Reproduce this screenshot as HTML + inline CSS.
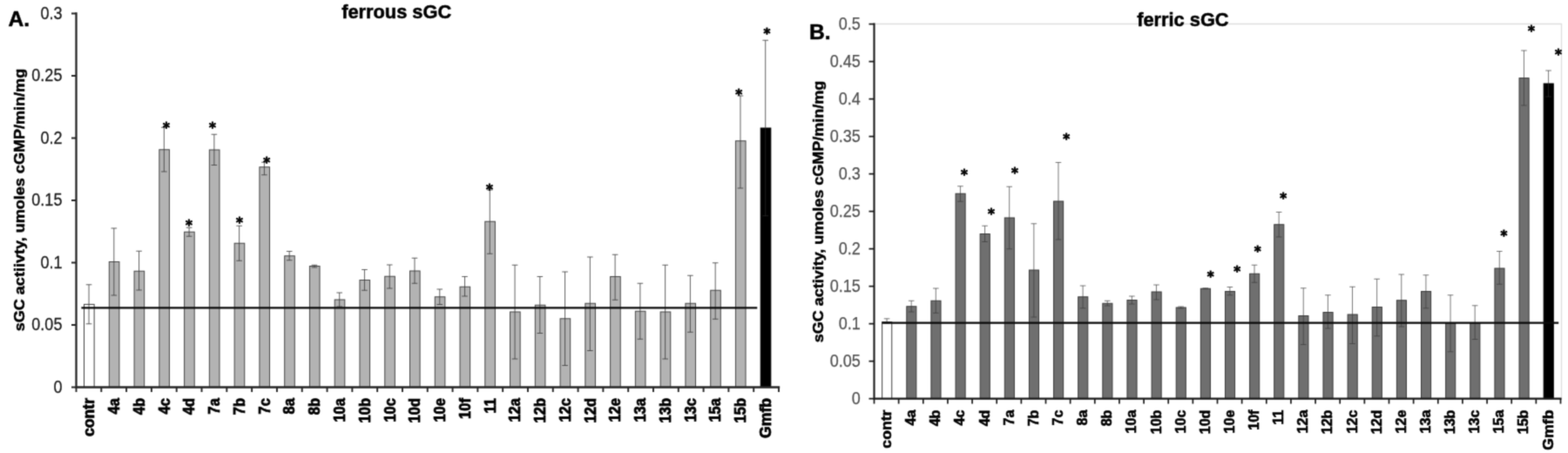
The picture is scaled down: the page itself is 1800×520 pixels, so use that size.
<!DOCTYPE html>
<html lang="en"><head><meta charset="utf-8"><title>sGC activity</title>
<style>
html,body{margin:0;padding:0;background:#fff;}
body{width:1800px;height:520px;overflow:hidden;}
svg{display:block;font-family:"Liberation Sans",sans-serif;}
.tl{font-size:19.5px;fill:#1c1c1c;stroke:#1c1c1c;stroke-width:0.3px;text-anchor:end;}
.tr{font-size:19.3px;fill:#525252;stroke:#525252;stroke-width:0.25px;text-anchor:end;}
.cl{font-size:17.6px;font-weight:bold;fill:#000;stroke:#000;stroke-width:0.75px;text-anchor:end;}
.cr{font-size:17px;font-weight:bold;fill:#000;stroke:#000;stroke-width:0.6px;text-anchor:end;}
.yl{font-size:17.3px;font-weight:bold;fill:#000;stroke:#000;stroke-width:0.5px;}
.ti{font-size:21.2px;font-weight:bold;fill:#000;stroke:#000;stroke-width:0.5px;}
.pl{font-size:24.6px;font-weight:bold;fill:#000;stroke:#000;stroke-width:0.5px;}
.as{font-family:"DejaVu Sans","Liberation Sans",sans-serif;font-size:15px;font-weight:bold;fill:#000;stroke:#000;stroke-width:0.8px;text-anchor:middle;}
</style></head><body>
<svg width="1800" height="520" viewBox="0 0 1800 520">
<defs><filter id="soft" x="0" y="0" width="1800" height="520" filterUnits="userSpaceOnUse" color-interpolation-filters="sRGB"><feConvolveMatrix order="3" kernelMatrix="0.0622 0.2494 0.0622 0.2494 1.0000 0.2494 0.0622 0.2494 0.0622" edgeMode="duplicate" preserveAlpha="true"/></filter></defs>
<g filter="url(#soft)">
<rect x="0" y="0" width="1800" height="520" fill="#fff"/>
<g>
<rect x="96.55" y="349.40" width="11.60" height="95.10" fill="#ffffff" stroke="#3c3c3c" stroke-width="1"/>
<rect x="125.32" y="300.50" width="11.60" height="144.00" fill="#b3b3b3" stroke="#464646" stroke-width="1"/>
<rect x="154.08" y="311.25" width="11.60" height="133.25" fill="#b3b3b3" stroke="#464646" stroke-width="1"/>
<rect x="182.84" y="171.75" width="11.60" height="272.75" fill="#b3b3b3" stroke="#464646" stroke-width="1"/>
<rect x="211.61" y="266.25" width="11.60" height="178.25" fill="#b3b3b3" stroke="#464646" stroke-width="1"/>
<rect x="240.37" y="172.00" width="11.60" height="272.50" fill="#b3b3b3" stroke="#464646" stroke-width="1"/>
<rect x="269.14" y="279.25" width="11.60" height="165.25" fill="#b3b3b3" stroke="#464646" stroke-width="1"/>
<rect x="297.91" y="191.75" width="11.60" height="252.75" fill="#b3b3b3" stroke="#464646" stroke-width="1"/>
<rect x="326.67" y="293.75" width="11.60" height="150.75" fill="#b3b3b3" stroke="#464646" stroke-width="1"/>
<rect x="355.44" y="305.50" width="11.60" height="139.00" fill="#b3b3b3" stroke="#464646" stroke-width="1"/>
<rect x="384.20" y="344.00" width="11.60" height="100.50" fill="#b3b3b3" stroke="#464646" stroke-width="1"/>
<rect x="412.96" y="321.50" width="11.60" height="123.00" fill="#b3b3b3" stroke="#464646" stroke-width="1"/>
<rect x="441.73" y="317.25" width="11.60" height="127.25" fill="#b3b3b3" stroke="#464646" stroke-width="1"/>
<rect x="470.49" y="311.00" width="11.60" height="133.50" fill="#b3b3b3" stroke="#464646" stroke-width="1"/>
<rect x="499.26" y="340.75" width="11.60" height="103.75" fill="#b3b3b3" stroke="#464646" stroke-width="1"/>
<rect x="528.03" y="329.25" width="11.60" height="115.25" fill="#b3b3b3" stroke="#464646" stroke-width="1"/>
<rect x="556.79" y="254.25" width="11.60" height="190.25" fill="#b3b3b3" stroke="#464646" stroke-width="1"/>
<rect x="585.56" y="358.00" width="11.60" height="86.50" fill="#b3b3b3" stroke="#464646" stroke-width="1"/>
<rect x="614.32" y="350.25" width="11.60" height="94.25" fill="#b3b3b3" stroke="#464646" stroke-width="1"/>
<rect x="643.09" y="365.75" width="11.60" height="78.75" fill="#b3b3b3" stroke="#464646" stroke-width="1"/>
<rect x="671.85" y="348.25" width="11.60" height="96.25" fill="#b3b3b3" stroke="#464646" stroke-width="1"/>
<rect x="700.62" y="317.50" width="11.60" height="127.00" fill="#b3b3b3" stroke="#464646" stroke-width="1"/>
<rect x="729.38" y="357.25" width="11.60" height="87.25" fill="#b3b3b3" stroke="#464646" stroke-width="1"/>
<rect x="758.15" y="358.00" width="11.60" height="86.50" fill="#b3b3b3" stroke="#464646" stroke-width="1"/>
<rect x="786.91" y="348.25" width="11.60" height="96.25" fill="#b3b3b3" stroke="#464646" stroke-width="1"/>
<rect x="815.68" y="333.25" width="11.60" height="111.25" fill="#b3b3b3" stroke="#464646" stroke-width="1"/>
<rect x="844.44" y="161.75" width="11.60" height="282.75" fill="#b3b3b3" stroke="#464646" stroke-width="1"/>
<rect x="873.21" y="147.00" width="11.60" height="297.50" fill="#000000" stroke="#000" stroke-width="1"/>
<path d="M102.05 326.75V371.75M98.75 326.75h6.6M98.75 371.75h6.6M130.81 262.00V339.00M127.52 262.00h6.6M127.52 339.00h6.6M159.58 288.25V333.00M156.28 288.25h6.6M156.28 333.00h6.6M188.34 146.25V197.00M185.04 146.25h6.6M185.04 197.00h6.6M217.11 261.25V271.25M213.81 261.25h6.6M213.81 271.25h6.6M245.87 154.25V189.50M242.57 154.25h6.6M242.57 189.50h6.6M274.64 259.25V299.25M271.34 259.25h6.6M271.34 299.25h6.6M303.41 186.25V200.75M300.11 186.25h6.6M300.11 200.75h6.6M332.17 288.50V298.75M328.87 288.50h6.6M328.87 298.75h6.6M360.94 304.25V307.00M357.63 304.25h6.6M357.63 307.00h6.6M389.70 336.00V352.00M386.40 336.00h6.6M386.40 352.00h6.6M418.46 309.50V333.25M415.16 309.50h6.6M415.16 333.25h6.6M447.23 304.00V331.00M443.93 304.00h6.6M443.93 331.00h6.6M475.99 296.25V325.25M472.69 296.25h6.6M472.69 325.25h6.6M504.76 332.00V349.50M501.46 332.00h6.6M501.46 349.50h6.6M533.53 317.50V340.00M530.23 317.50h6.6M530.23 340.00h6.6M562.29 218.00V291.25M558.99 218.00h6.6M558.99 291.25h6.6M591.06 304.25V412.00M587.76 304.25h6.6M587.76 412.00h6.6M619.82 317.50V382.50M616.52 317.50h6.6M616.52 382.50h6.6M648.59 312.00V419.50M645.29 312.00h6.6M645.29 419.50h6.6M677.35 295.00V402.50M674.05 295.00h6.6M674.05 402.50h6.6M706.12 292.25V344.25M702.82 292.25h6.6M702.82 344.25h6.6M734.88 325.25V389.25M731.58 325.25h6.6M731.58 389.25h6.6M763.65 304.25V412.00M760.35 304.25h6.6M760.35 412.00h6.6M792.41 316.25V381.25M789.11 316.25h6.6M789.11 381.25h6.6M821.18 301.75V366.25M817.88 301.75h6.6M817.88 366.25h6.6M849.94 110.00V216.00M846.64 110.00h6.6M846.64 216.00h6.6M878.71 46.25V147.00M875.41 46.25h6.6" fill="none" stroke="#3a3a3a" stroke-width="1" stroke-opacity="0.8"/>
<path d="M878.71 147.00V247.75M875.41 247.75h6.6" fill="none" stroke="#555" stroke-width="1" stroke-opacity="0.35"/>
<line x1="93.40" y1="353.45" x2="869.25" y2="353.45" stroke="#0a0a0a" stroke-width="2.3"/>
<path d="M87.50 14.35V444.50H895.15" fill="none" stroke="#262626" stroke-width="2.3"/>
<path d="M87.50 444.50h-5.50M87.50 373.00h-5.50M87.50 301.50h-5.50M87.50 230.00h-5.50M87.50 158.50h-5.50M87.50 87.00h-5.50M87.50 15.50h-5.50M87.50 444.50v5.50M116.30 444.50v5.50M145.11 444.50v5.50M173.91 444.50v5.50M202.71 444.50v5.50M231.52 444.50v5.50M260.32 444.50v5.50M289.12 444.50v5.50M317.93 444.50v5.50M346.73 444.50v5.50M375.54 444.50v5.50M404.34 444.50v5.50M433.14 444.50v5.50M461.95 444.50v5.50M490.75 444.50v5.50M519.55 444.50v5.50M548.36 444.50v5.50M577.16 444.50v5.50M605.96 444.50v5.50M634.77 444.50v5.50M663.57 444.50v5.50M692.38 444.50v5.50M721.18 444.50v5.50M749.98 444.50v5.50M778.79 444.50v5.50M807.59 444.50v5.50M836.39 444.50v5.50M865.20 444.50v5.50M894.00 444.50v5.50" fill="none" stroke="#262626" stroke-width="1.9"/>
<text class="tl" x="71.4" y="450.5" textLength="10.01" lengthAdjust="spacingAndGlyphs">0</text>
<text class="tl" x="71.4" y="379.0" textLength="35.03" lengthAdjust="spacingAndGlyphs">0.05</text>
<text class="tl" x="71.4" y="307.5" textLength="25.02" lengthAdjust="spacingAndGlyphs">0.1</text>
<text class="tl" x="71.4" y="236.0" textLength="35.03" lengthAdjust="spacingAndGlyphs">0.15</text>
<text class="tl" x="71.4" y="164.5" textLength="25.02" lengthAdjust="spacingAndGlyphs">0.2</text>
<text class="tl" x="71.4" y="93.0" textLength="35.03" lengthAdjust="spacingAndGlyphs">0.25</text>
<text class="tl" x="71.4" y="21.5" textLength="25.02" lengthAdjust="spacingAndGlyphs">0.3</text>
<text class="cl" transform="translate(108.35 457.00) rotate(-90) scale(1.0 1)">contr</text>
<text class="cl" transform="translate(137.12 457.00) rotate(-90) scale(0.94 1)">4a</text>
<text class="cl" transform="translate(165.88 457.00) rotate(-90) scale(0.94 1)">4b</text>
<text class="cl" transform="translate(194.64 457.00) rotate(-90) scale(0.94 1)">4c</text>
<text class="cl" transform="translate(223.41 457.00) rotate(-90) scale(0.94 1)">4d</text>
<text class="cl" transform="translate(252.17 457.00) rotate(-90) scale(0.94 1)">7a</text>
<text class="cl" transform="translate(280.94 457.00) rotate(-90) scale(0.94 1)">7b</text>
<text class="cl" transform="translate(309.71 457.00) rotate(-90) scale(0.94 1)">7c</text>
<text class="cl" transform="translate(338.47 457.00) rotate(-90) scale(0.94 1)">8a</text>
<text class="cl" transform="translate(367.24 457.00) rotate(-90) scale(0.94 1)">8b</text>
<text class="cl" transform="translate(396.00 457.00) rotate(-90) scale(0.94 1)">10a</text>
<text class="cl" transform="translate(424.76 457.00) rotate(-90) scale(0.94 1)">10b</text>
<text class="cl" transform="translate(453.53 457.00) rotate(-90) scale(0.94 1)">10c</text>
<text class="cl" transform="translate(482.29 457.00) rotate(-90) scale(0.94 1)">10d</text>
<text class="cl" transform="translate(511.06 457.00) rotate(-90) scale(0.94 1)">10e</text>
<text class="cl" transform="translate(539.83 457.00) rotate(-90) scale(0.94 1)">10f</text>
<text class="cl" transform="translate(568.59 457.00) rotate(-90) scale(0.94 1)">11</text>
<text class="cl" transform="translate(597.36 457.00) rotate(-90) scale(0.94 1)">12a</text>
<text class="cl" transform="translate(626.12 457.00) rotate(-90) scale(0.94 1)">12b</text>
<text class="cl" transform="translate(654.88 457.00) rotate(-90) scale(0.94 1)">12c</text>
<text class="cl" transform="translate(683.65 457.00) rotate(-90) scale(0.94 1)">12d</text>
<text class="cl" transform="translate(712.42 457.00) rotate(-90) scale(0.94 1)">12e</text>
<text class="cl" transform="translate(741.18 457.00) rotate(-90) scale(0.94 1)">13a</text>
<text class="cl" transform="translate(769.95 457.00) rotate(-90) scale(0.94 1)">13b</text>
<text class="cl" transform="translate(798.71 457.00) rotate(-90) scale(0.94 1)">13c</text>
<text class="cl" transform="translate(827.48 457.00) rotate(-90) scale(0.94 1)">15a</text>
<text class="cl" transform="translate(856.24 457.00) rotate(-90) scale(0.94 1)">15b</text>
<text class="cl" transform="translate(885.00 457.00) rotate(-90) scale(1.0 1)">Gmfb</text>
</g>
<g>
<path d="M1003.5 27.5H1792.5V457.6" fill="none" stroke="#dedede" stroke-width="1.3"/>
<rect x="1012.65" y="369.60" width="11.10" height="88.00" fill="#ffffff" stroke="#3c3c3c" stroke-width="1"/>
<rect x="1040.78" y="351.75" width="11.10" height="105.85" fill="#6f6f6f" stroke="#3a3a3a" stroke-width="1"/>
<rect x="1068.91" y="345.25" width="11.10" height="112.35" fill="#6f6f6f" stroke="#3a3a3a" stroke-width="1"/>
<rect x="1097.04" y="222.25" width="11.10" height="235.35" fill="#6f6f6f" stroke="#3a3a3a" stroke-width="1"/>
<rect x="1125.17" y="268.50" width="11.10" height="189.10" fill="#6f6f6f" stroke="#3a3a3a" stroke-width="1"/>
<rect x="1153.30" y="250.00" width="11.10" height="207.60" fill="#6f6f6f" stroke="#3a3a3a" stroke-width="1"/>
<rect x="1181.43" y="310.00" width="11.10" height="147.60" fill="#6f6f6f" stroke="#3a3a3a" stroke-width="1"/>
<rect x="1209.56" y="231.00" width="11.10" height="226.60" fill="#6f6f6f" stroke="#3a3a3a" stroke-width="1"/>
<rect x="1237.69" y="340.75" width="11.10" height="116.85" fill="#6f6f6f" stroke="#3a3a3a" stroke-width="1"/>
<rect x="1265.82" y="348.25" width="11.10" height="109.35" fill="#6f6f6f" stroke="#3a3a3a" stroke-width="1"/>
<rect x="1293.95" y="344.50" width="11.10" height="113.10" fill="#6f6f6f" stroke="#3a3a3a" stroke-width="1"/>
<rect x="1322.08" y="335.00" width="11.10" height="122.60" fill="#6f6f6f" stroke="#3a3a3a" stroke-width="1"/>
<rect x="1350.21" y="353.00" width="11.10" height="104.60" fill="#6f6f6f" stroke="#3a3a3a" stroke-width="1"/>
<rect x="1378.34" y="331.25" width="11.10" height="126.35" fill="#6f6f6f" stroke="#3a3a3a" stroke-width="1"/>
<rect x="1406.47" y="334.50" width="11.10" height="123.10" fill="#6f6f6f" stroke="#3a3a3a" stroke-width="1"/>
<rect x="1434.60" y="314.25" width="11.10" height="143.35" fill="#6f6f6f" stroke="#3a3a3a" stroke-width="1"/>
<rect x="1462.73" y="257.75" width="11.10" height="199.85" fill="#6f6f6f" stroke="#3a3a3a" stroke-width="1"/>
<rect x="1490.86" y="362.50" width="11.10" height="95.10" fill="#6f6f6f" stroke="#3a3a3a" stroke-width="1"/>
<rect x="1518.99" y="358.50" width="11.10" height="99.10" fill="#6f6f6f" stroke="#3a3a3a" stroke-width="1"/>
<rect x="1547.12" y="361.00" width="11.10" height="96.60" fill="#6f6f6f" stroke="#3a3a3a" stroke-width="1"/>
<rect x="1575.25" y="352.50" width="11.10" height="105.10" fill="#6f6f6f" stroke="#3a3a3a" stroke-width="1"/>
<rect x="1603.38" y="344.75" width="11.10" height="112.85" fill="#6f6f6f" stroke="#3a3a3a" stroke-width="1"/>
<rect x="1631.51" y="334.50" width="11.10" height="123.10" fill="#6f6f6f" stroke="#3a3a3a" stroke-width="1"/>
<rect x="1659.64" y="370.75" width="11.10" height="86.85" fill="#6f6f6f" stroke="#3a3a3a" stroke-width="1"/>
<rect x="1687.77" y="370.75" width="11.10" height="86.85" fill="#6f6f6f" stroke="#3a3a3a" stroke-width="1"/>
<rect x="1715.90" y="308.00" width="11.10" height="149.60" fill="#6f6f6f" stroke="#3a3a3a" stroke-width="1"/>
<rect x="1744.03" y="89.60" width="11.10" height="368.00" fill="#6f6f6f" stroke="#3a3a3a" stroke-width="1"/>
<rect x="1772.16" y="96.00" width="11.10" height="361.60" fill="#000000" stroke="#000" stroke-width="1"/>
<path d="M1018.05 365.80V371.00M1014.75 365.80h6.6M1014.75 371.00h6.6M1046.18 345.25V358.00M1042.88 345.25h6.6M1042.88 358.00h6.6M1074.31 331.00V359.25M1071.01 331.00h6.6M1071.01 359.25h6.6M1102.44 213.75V231.25M1099.14 213.75h6.6M1099.14 231.25h6.6M1130.57 259.25V277.50M1127.27 259.25h6.6M1127.27 277.50h6.6M1158.70 214.25V285.75M1155.40 214.25h6.6M1155.40 285.75h6.6M1186.83 256.75V364.00M1183.53 256.75h6.6M1183.53 364.00h6.6M1214.96 186.50V275.00M1211.66 186.50h6.6M1211.66 275.00h6.6M1243.09 328.00V353.75M1239.79 328.00h6.6M1239.79 353.75h6.6M1271.22 345.25V351.00M1267.92 345.25h6.6M1267.92 351.00h6.6M1299.35 340.00V349.00M1296.05 340.00h6.6M1296.05 349.00h6.6M1327.48 327.00V344.00M1324.18 327.00h6.6M1324.18 344.00h6.6M1355.61 352.00V354.00M1352.31 352.00h6.6M1352.31 354.00h6.6M1383.74 330.75V331.75M1380.44 330.75h6.6M1380.44 331.75h6.6M1411.87 329.50V338.75M1408.57 329.50h6.6M1408.57 338.75h6.6M1440.00 304.25V324.25M1436.70 304.25h6.6M1436.70 324.25h6.6M1468.13 243.50V272.00M1464.83 243.50h6.6M1464.83 272.00h6.6M1496.26 330.75V395.50M1492.96 330.75h6.6M1492.96 395.50h6.6M1524.39 338.75V377.00M1521.09 338.75h6.6M1521.09 377.00h6.6M1552.52 329.25V394.50M1549.22 329.25h6.6M1549.22 394.50h6.6M1580.65 320.25V385.75M1577.35 320.25h6.6M1577.35 385.75h6.6M1608.78 315.00V375.00M1605.48 315.00h6.6M1605.48 375.00h6.6M1636.91 315.75V353.75M1633.61 315.75h6.6M1633.61 353.75h6.6M1665.04 338.75V403.75M1661.74 338.75h6.6M1661.74 403.75h6.6M1693.17 350.75V389.50M1689.87 350.75h6.6M1689.87 389.50h6.6M1721.30 288.50V326.25M1718.00 288.50h6.6M1718.00 326.25h6.6M1749.43 58.00V121.00M1746.13 58.00h6.6M1746.13 121.00h6.6M1777.56 81.00V96.00M1774.26 81.00h6.6" fill="none" stroke="#3a3a3a" stroke-width="1" stroke-opacity="0.68"/>
<path d="M1777.56 96.00V111.00M1774.26 111.00h6.6" fill="none" stroke="#555" stroke-width="1" stroke-opacity="0.35"/>
<line x1="1012.50" y1="370.60" x2="1789.20" y2="370.60" stroke="#0a0a0a" stroke-width="2.3"/>
<path d="M1003.50 26.55V457.60H1792.55" fill="none" stroke="#1a1a1a" stroke-width="2.1"/>
<path d="M1003.50 457.60h-6.00M1003.50 414.60h-6.00M1003.50 371.60h-6.00M1003.50 328.60h-6.00M1003.50 285.60h-6.00M1003.50 242.60h-6.00M1003.50 199.60h-6.00M1003.50 156.60h-6.00M1003.50 113.60h-6.00M1003.50 70.60h-6.00M1003.50 27.60h-6.00M1003.50 457.60v6.00M1031.64 457.60v6.00M1059.79 457.60v6.00M1087.93 457.60v6.00M1116.07 457.60v6.00M1144.21 457.60v6.00M1172.36 457.60v6.00M1200.50 457.60v6.00M1228.64 457.60v6.00M1256.79 457.60v6.00M1284.93 457.60v6.00M1313.07 457.60v6.00M1341.21 457.60v6.00M1369.36 457.60v6.00M1397.50 457.60v6.00M1425.64 457.60v6.00M1453.79 457.60v6.00M1481.93 457.60v6.00M1510.07 457.60v6.00M1538.21 457.60v6.00M1566.36 457.60v6.00M1594.50 457.60v6.00M1622.64 457.60v6.00M1650.79 457.60v6.00M1678.93 457.60v6.00M1707.07 457.60v6.00M1735.21 457.60v6.00M1763.36 457.60v6.00M1791.50 457.60v6.00" fill="none" stroke="#1a1a1a" stroke-width="1.7000000000000002"/>
<text class="tr" x="987.8" y="463.5" textLength="10.01" lengthAdjust="spacingAndGlyphs">0</text>
<text class="tr" x="987.8" y="420.5" textLength="35.03" lengthAdjust="spacingAndGlyphs">0.05</text>
<text class="tr" x="987.8" y="377.5" textLength="25.02" lengthAdjust="spacingAndGlyphs">0.1</text>
<text class="tr" x="987.8" y="334.5" textLength="35.03" lengthAdjust="spacingAndGlyphs">0.15</text>
<text class="tr" x="987.8" y="291.5" textLength="25.02" lengthAdjust="spacingAndGlyphs">0.2</text>
<text class="tr" x="987.8" y="248.5" textLength="35.03" lengthAdjust="spacingAndGlyphs">0.25</text>
<text class="tr" x="987.8" y="205.5" textLength="25.02" lengthAdjust="spacingAndGlyphs">0.3</text>
<text class="tr" x="987.8" y="162.5" textLength="35.03" lengthAdjust="spacingAndGlyphs">0.35</text>
<text class="tr" x="987.8" y="119.5" textLength="25.02" lengthAdjust="spacingAndGlyphs">0.4</text>
<text class="tr" x="987.8" y="76.5" textLength="35.03" lengthAdjust="spacingAndGlyphs">0.45</text>
<text class="tr" x="987.8" y="33.5" textLength="25.02" lengthAdjust="spacingAndGlyphs">0.5</text>
<text class="cr" transform="translate(1023.10 470.50) rotate(-90) scale(1.04 1)">contr</text>
<text class="cr" transform="translate(1051.23 470.50) rotate(-90) scale(0.95 1)">4a</text>
<text class="cr" transform="translate(1079.36 470.50) rotate(-90) scale(0.95 1)">4b</text>
<text class="cr" transform="translate(1107.49 470.50) rotate(-90) scale(0.95 1)">4c</text>
<text class="cr" transform="translate(1135.62 470.50) rotate(-90) scale(0.95 1)">4d</text>
<text class="cr" transform="translate(1163.75 470.50) rotate(-90) scale(0.95 1)">7a</text>
<text class="cr" transform="translate(1191.88 470.50) rotate(-90) scale(0.95 1)">7b</text>
<text class="cr" transform="translate(1220.01 470.50) rotate(-90) scale(0.95 1)">7c</text>
<text class="cr" transform="translate(1248.14 470.50) rotate(-90) scale(0.95 1)">8a</text>
<text class="cr" transform="translate(1276.27 470.50) rotate(-90) scale(0.95 1)">8b</text>
<text class="cr" transform="translate(1304.40 470.50) rotate(-90) scale(0.95 1)">10a</text>
<text class="cr" transform="translate(1332.53 470.50) rotate(-90) scale(0.95 1)">10b</text>
<text class="cr" transform="translate(1360.66 470.50) rotate(-90) scale(0.95 1)">10c</text>
<text class="cr" transform="translate(1388.79 470.50) rotate(-90) scale(0.95 1)">10d</text>
<text class="cr" transform="translate(1416.92 470.50) rotate(-90) scale(0.95 1)">10e</text>
<text class="cr" transform="translate(1445.05 470.50) rotate(-90) scale(0.95 1)">10f</text>
<text class="cr" transform="translate(1473.18 470.50) rotate(-90) scale(0.95 1)">11</text>
<text class="cr" transform="translate(1501.31 470.50) rotate(-90) scale(0.95 1)">12a</text>
<text class="cr" transform="translate(1529.44 470.50) rotate(-90) scale(0.95 1)">12b</text>
<text class="cr" transform="translate(1557.57 470.50) rotate(-90) scale(0.95 1)">12c</text>
<text class="cr" transform="translate(1585.70 470.50) rotate(-90) scale(0.95 1)">12d</text>
<text class="cr" transform="translate(1613.83 470.50) rotate(-90) scale(0.95 1)">12e</text>
<text class="cr" transform="translate(1641.96 470.50) rotate(-90) scale(0.95 1)">13a</text>
<text class="cr" transform="translate(1670.09 470.50) rotate(-90) scale(0.95 1)">13b</text>
<text class="cr" transform="translate(1698.22 470.50) rotate(-90) scale(0.95 1)">13c</text>
<text class="cr" transform="translate(1726.35 470.50) rotate(-90) scale(0.95 1)">15a</text>
<text class="cr" transform="translate(1754.48 470.50) rotate(-90) scale(0.95 1)">15b</text>
<text class="cr" transform="translate(1782.61 470.50) rotate(-90) scale(1.04 1)">Gmfb</text>
</g>
<text class="as" x="191.00" y="151.90">*</text>
<text class="as" x="217.00" y="263.65">*</text>
<text class="as" x="244.00" y="151.70">*</text>
<text class="as" x="275.00" y="261.40">*</text>
<text class="as" x="306.25" y="191.65">*</text>
<text class="as" x="562.00" y="223.40">*</text>
<text class="as" x="848.30" y="113.90">*</text>
<text class="as" x="880.50" y="44.15">*</text>
<text class="as" x="1107.00" y="205.90">*</text>
<text class="as" x="1138.00" y="251.40">*</text>
<text class="as" x="1165.00" y="203.90">*</text>
<text class="as" x="1224.25" y="165.40">*</text>
<text class="as" x="1389.75" y="322.65">*</text>
<text class="as" x="1420.25" y="317.00">*</text>
<text class="as" x="1443.75" y="294.15">*</text>
<text class="as" x="1473.25" y="232.65">*</text>
<text class="as" x="1726.50" y="276.40">*</text>
<text class="as" x="1758.00" y="41.40">*</text>
<text class="as" x="1789.00" y="68.40">*</text>
<text class="yl" transform="translate(28.2 380.3) rotate(-90)" textLength="301.5" lengthAdjust="spacingAndGlyphs">sGC actiivty, umoles cGMP/min/mg</text>
<text class="yl" transform="translate(944.5 393.3) rotate(-90)" textLength="300.5" lengthAdjust="spacingAndGlyphs">sGC activity, umoles cGMP/min/mg</text>
<text class="ti" x="392.2" y="20.9" textLength="126" lengthAdjust="spacingAndGlyphs">ferrous sGC</text>
<text class="ti" x="1305.2" y="30.4" textLength="105.4" lengthAdjust="spacingAndGlyphs">ferric sGC</text>
<text class="pl" x="9.5" y="30">A.</text>
<text class="pl" x="929" y="45">B.</text>
</g>
</svg>
</body></html>
